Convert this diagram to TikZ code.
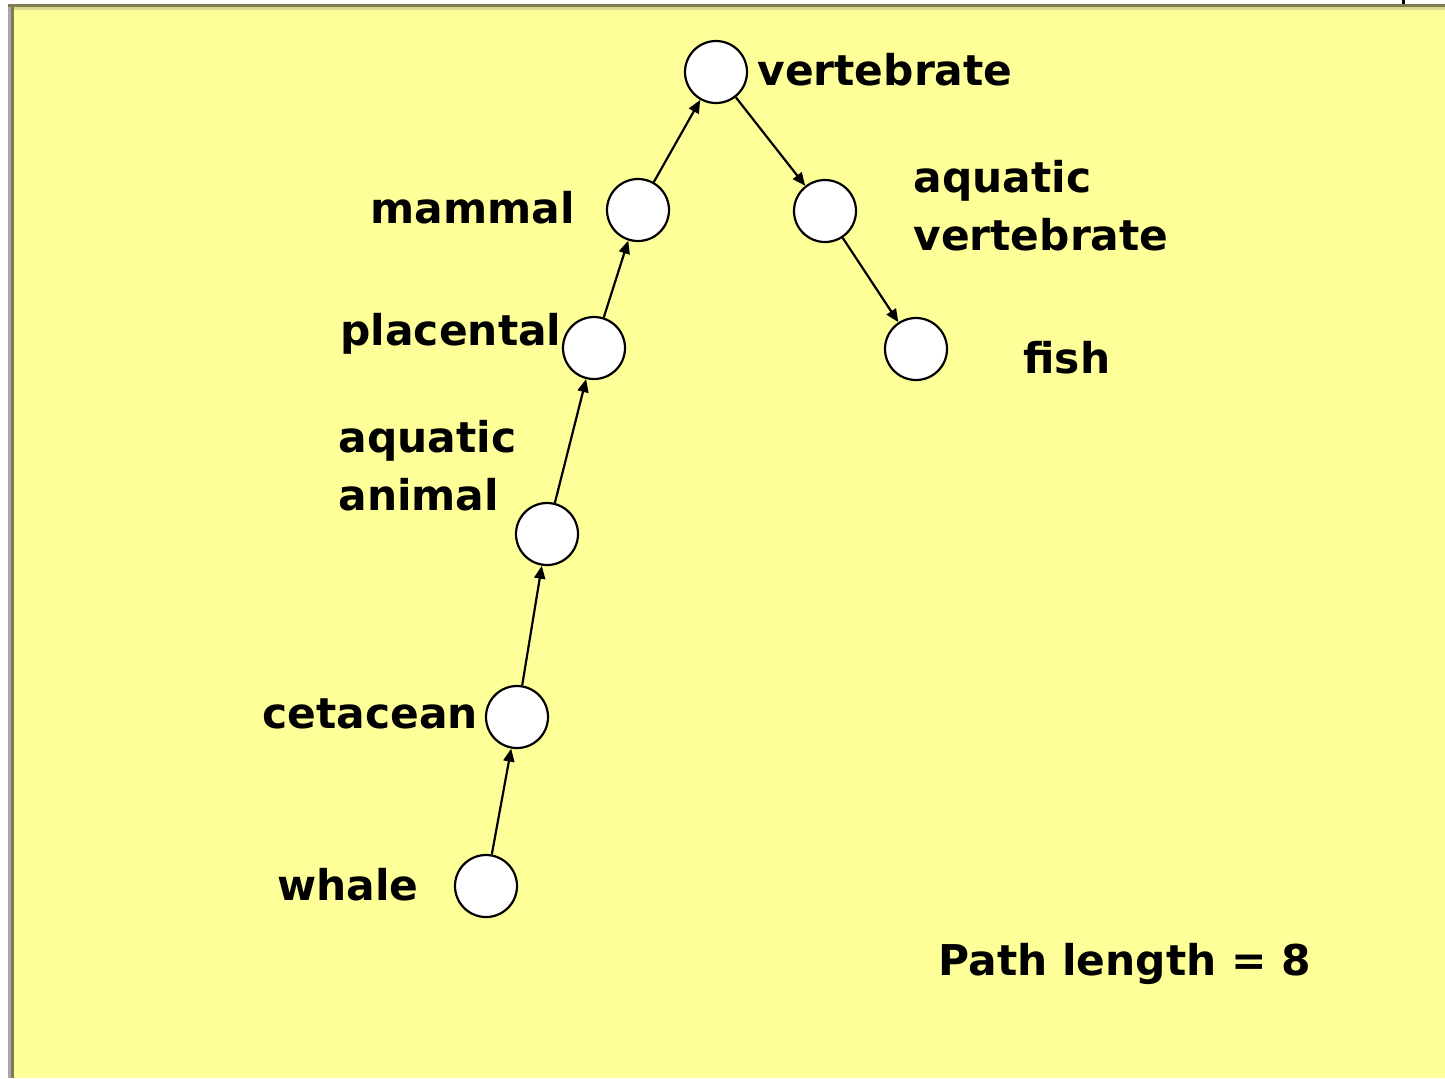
\documentclass[tikz,border=0pt]{standalone}
\usepackage{fontspec}
\setmainfont{DejaVu Sans}
\usetikzlibrary{arrows.meta}
\definecolor{bgyellow}{HTML}{FFFF99}
\definecolor{frameolive}{HTML}{7F7B4F}
\definecolor{framegray}{HTML}{A8A8A8}
\definecolor{framelight}{HTML}{DCD78A}
\tikzset{
  concept/.style={circle, draw=black, fill=white, line width=1.1pt, minimum size=31pt, inner sep=0pt},
  lbl/.style={anchor=base west, inner sep=0pt, align=left, font=\fontsize{21.2}{29}\selectfont\bfseries},
  isa/.style={line width=1.1pt, -{Triangle[length=6.5pt,width=5.5pt]}}
}
\begin{document}
\begin{tikzpicture}[x=0.5pt,y=-0.5pt]
\useasboundingbox (0,0) rectangle (1445,1078);
\fill[white] (0,0) rectangle (1445,1078);
% frame
\fill[bgyellow] (14,10) rectangle (1445,1078);
\fill[framegray] (8,4) rectangle (11,1078);
\fill[frameolive] (11,4) rectangle (14,1078);
\fill[frameolive] (8,4) rectangle (1445,7);
\fill[framelight] (14,7) rectangle (1445,10);
\fill[black] (1402,0) rectangle (1405,4);
% concept circles
\node[concept] (vert) at (716,72) {};
\node[concept] (mamm) at (638,210) {};
\node[concept] (aqvert) at (825,211) {};
\node[concept] (plac) at (594,348) {};
\node[concept] (fish) at (916,349) {};
\node[concept] (aqan) at (547,534) {};
\node[concept] (ceta) at (517,717) {};
\node[concept] (whale) at (486,886) {};
% labels
\node[lbl] (lvert) at (757,85) {vertebrate};
\node[lbl] (lmamm) at (370,223) {mammal};
\node[lbl] (laqvert) at (913,250) {aquatic\\vertebrate};
\node[lbl] (lplac) at (340,345) {placental};
\node[lbl] (lfish) at (1023,373) {fish};
\node[lbl] (laqan) at (338,510) {aquatic\\animal};
\node[lbl] (lceta) at (262,728) {cetacean};
\node[lbl] (lwhale) at (277,900) {whale};
\node[lbl] (lpath) at (938,975) {Path length = 8};
% is-a links
\draw[isa] (whale) -- (ceta);
\draw[isa] (ceta) -- (aqan);
\draw[isa] (aqan) -- (plac);
\draw[isa] (plac) -- (mamm);
\draw[isa] (mamm) -- (vert);
\draw[isa] (vert) -- (aqvert);
\draw[isa] (aqvert) -- (fish);
\end{tikzpicture}
\end{document}
